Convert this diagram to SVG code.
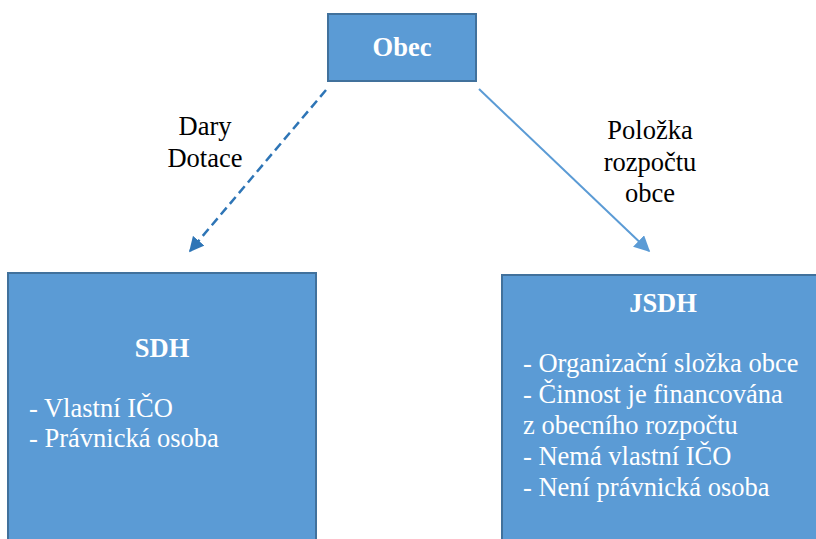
<svg xmlns="http://www.w3.org/2000/svg" width="816" height="539" viewBox="0 0 816 539">
<style>
.box{fill:#5B9BD5;stroke:#41719C;stroke-width:2}
.t{font-family:"Times New Roman","Liberation Serif",Tinos,"DejaVu Serif",serif;font-size:26.5px}
.w{fill:#FFFFFF}
.b{font-weight:bold}
.k{fill:#000000}
</style>
<defs>
<marker id="ad" viewBox="0 0 10 10" refX="9" refY="5" markerWidth="6" markerHeight="6" orient="auto" markerUnits="strokeWidth">
<path d="M0,0 L10,5 L0,10 z" fill="#2E75B6"/>
</marker>
<marker id="as" viewBox="0 0 10 10" refX="9" refY="5" markerWidth="8" markerHeight="8" orient="auto" markerUnits="strokeWidth">
<path d="M0,0 L10,5 L0,10 z" fill="#5B9BD5"/>
</marker>
</defs>
<rect width="816" height="539" fill="#FFFFFF"/>
<g id="connectors">
<line x1="326" y1="90" x2="190" y2="251" stroke="#2E75B6" stroke-width="2.5" stroke-dasharray="9,5" marker-end="url(#ad)"/>
<line x1="479" y1="89" x2="649" y2="251" stroke="#5B9BD5" stroke-width="2" marker-end="url(#as)"/>
<text class="t k" x="205" y="135" text-anchor="middle">Dary</text>
<text class="t k" x="205" y="167" text-anchor="middle">Dotace</text>
<text class="t k" x="650" y="139" text-anchor="middle">Položka</text>
<text class="t k" x="650" y="171" text-anchor="middle">rozpočtu</text>
<text class="t k" x="650" y="202" text-anchor="middle">obce</text>
</g>
<g id="obec">
<rect class="box" x="328" y="14" width="148" height="67"/>
<text class="t w b" x="402" y="56" text-anchor="middle" font-size="24">Obec</text>
</g>
<g id="sdh">
<rect class="box" x="8" y="273" width="308" height="280"/>
<text class="t w b" x="162" y="357" text-anchor="middle">SDH</text>
<text class="t w" x="29" y="417">- Vlastní IČO</text>
<text class="t w" x="29" y="447">- Právnická osoba</text>
</g>
<g id="jsdh">
<rect class="box" x="502" y="275" width="330" height="280"/>
<text class="t w b" x="663" y="312" text-anchor="middle">JSDH</text>
<text class="t w" x="523" y="372">- Organizační složka obce</text>
<text class="t w" x="523" y="403">- Činnost je financována</text>
<text class="t w" x="523" y="434">z obecního rozpočtu</text>
<text class="t w" x="523" y="465">- Nemá vlastní IČO</text>
<text class="t w" x="523" y="496">- Není právnická osoba</text>
</g>
</svg>
